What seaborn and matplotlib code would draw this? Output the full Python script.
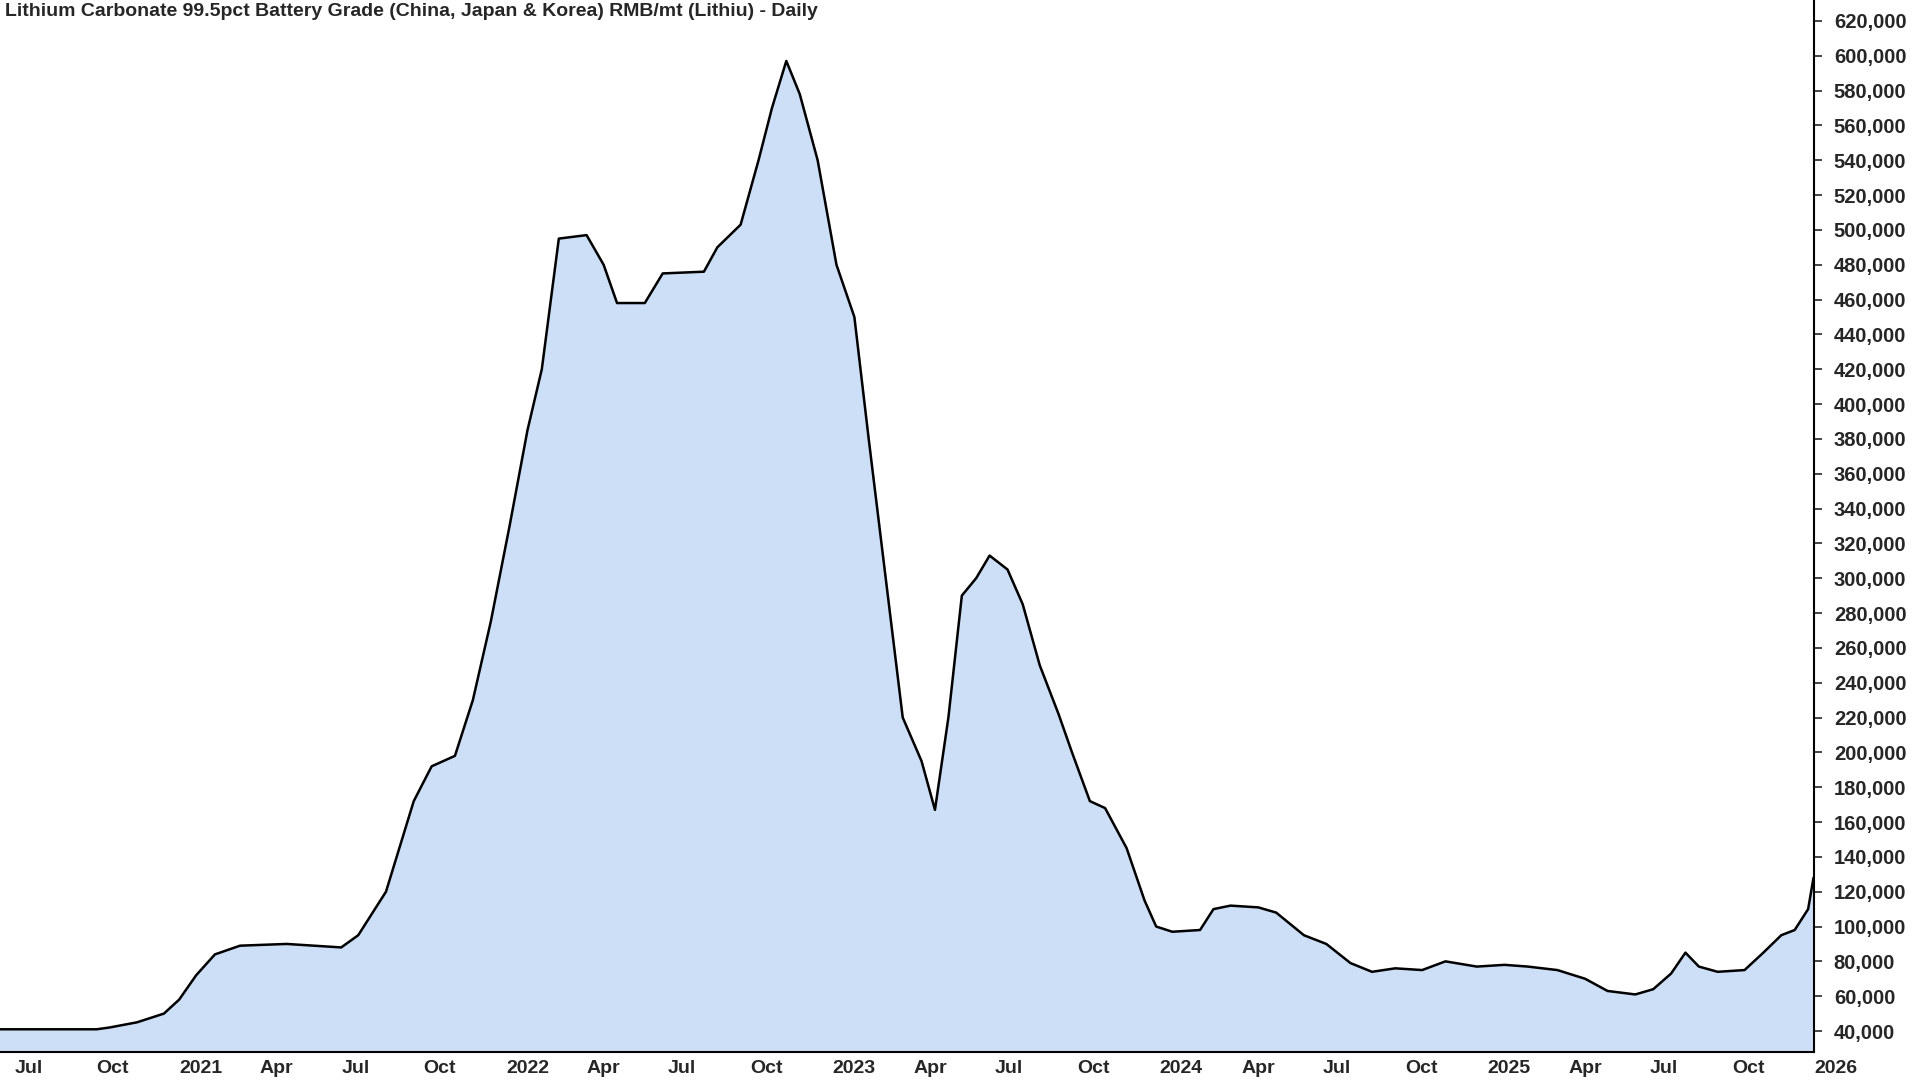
import pandas as pd
import seaborn as sns
import matplotlib.pyplot as plt
import matplotlib.dates as mdates
from matplotlib.ticker import FuncFormatter, MultipleLocator

# Price points (RMB/mt)
dates = ["2020-06-15", "2020-10-01", "2020-10-15", "2020-11-15", "2020-12-15", "2021-01-01",
         "2021-01-20", "2021-02-10", "2021-03-10", "2021-05-01", "2021-07-01", "2021-07-20",
         "2021-08-20", "2021-09-20", "2021-10-10", "2021-11-05", "2021-11-25", "2021-12-15",
         "2022-01-05", "2022-01-25", "2022-02-10", "2022-03-01", "2022-04-01", "2022-04-20",
         "2022-05-05", "2022-06-05", "2022-06-25", "2022-08-10", "2022-08-25", "2022-09-20",
         "2022-10-10", "2022-10-25", "2022-11-10", "2022-11-25", "2022-12-15", "2023-01-05",
         "2023-01-25", "2023-02-10", "2023-03-01", "2023-03-20", "2023-04-10", "2023-04-25",
         "2023-05-10", "2023-05-25", "2023-06-10", "2023-06-25", "2023-07-15", "2023-08-01",
         "2023-08-20", "2023-09-10", "2023-09-25", "2023-10-15", "2023-11-01", "2023-11-25",
         "2023-12-15", "2023-12-28", "2024-01-15", "2024-02-15", "2024-03-01", "2024-03-20",
         "2024-04-20", "2024-05-10", "2024-06-10", "2024-07-05", "2024-08-01", "2024-08-25",
         "2024-09-20", "2024-10-20", "2024-11-15", "2024-12-20", "2025-01-20", "2025-02-15",
         "2025-03-20", "2025-04-20", "2025-05-15", "2025-06-15", "2025-07-05", "2025-07-25",
         "2025-08-10", "2025-08-25", "2025-09-15", "2025-10-15", "2025-11-05", "2025-11-25",
         "2025-12-10", "2025-12-25", "2025-12-31"]
prices = [41000, 41000, 42000, 45000, 50000, 58000,
          72000, 84000, 89000, 90000, 88000, 95000,
          120000, 172000, 192000, 198000, 230000, 275000,
          330000, 385000, 420000, 495000, 497000, 480000,
          458000, 458000, 475000, 476000, 490000, 503000,
          540000, 570000, 597000, 578000, 540000, 480000,
          450000, 380000, 300000, 220000, 195000, 167000,
          220000, 290000, 300000, 313000, 305000, 285000,
          250000, 222000, 200000, 172000, 168000, 145000,
          115000, 100000, 97000, 98000, 110000, 112000,
          111000, 108000, 95000, 90000, 79000, 74000,
          76000, 75000, 80000, 77000, 78000, 77000,
          75000, 70000, 63000, 61000, 64000, 73000,
          85000, 77000, 74000, 75000, 85000, 95000,
          98000, 110000, 128000]

df = pd.DataFrame({"date": pd.to_datetime(dates), "price": prices})

sns.set_style("white")
plt.rcParams["font.family"] = ["Liberation Sans", "DejaVu Sans"]

fig = plt.figure(figsize=(19.2, 10.8), dpi=100)
ax = fig.add_axes([0.0, 0.026, 0.945, 0.974])

ax.fill_between(df["date"], 28000, df["price"], color="#cddff7", zorder=1)
sns.lineplot(data=df, x="date", y="price", ax=ax, color="black", linewidth=1.8, zorder=2)

ax.set_xlim(pd.Timestamp("2020-06-15"), pd.Timestamp("2026-01-01"))
ax.set_ylim(28000, 632000)
ax.set_xlabel("")
ax.set_ylabel("")

# y axis on the right
ax.yaxis.tick_right()
ax.yaxis.set_major_locator(MultipleLocator(20000))
ax.yaxis.set_major_formatter(FuncFormatter(lambda v, p: f"{int(v):,}" if v >= 40000 else ""))
ax.tick_params(axis="y", direction="out", length=6, width=1.2, labelsize=14.5, pad=8)

# x axis: quarterly ticks, labels just to the right of each tick
ax.xaxis.set_major_locator(mdates.MonthLocator(bymonth=[1, 4, 7, 10]))
ax.xaxis.set_major_formatter(FuncFormatter(
    lambda v, p: (mdates.num2date(v).strftime("%Y") if mdates.num2date(v).month == 1
                  else mdates.num2date(v).strftime("%b"))))
ax.tick_params(axis="x", direction="out", length=6, width=1.2, labelsize=14, pad=0)
for lbl in ax.get_xticklabels():
    lbl.set_horizontalalignment("left")
for lbl in ax.get_xticklabels() + ax.get_yticklabels():
    lbl.set_fontweight("bold")

for side in ["left", "top"]:
    ax.spines[side].set_visible(False)
for side in ["right", "bottom"]:
    ax.spines[side].set_color("black")
    ax.spines[side].set_linewidth(1.5)

ax.text(0.003, 0.997, "Lithium Carbonate 99.5pct Battery Grade (China, Japan & Korea) RMB/mt (Lithiu) - Daily",
        transform=ax.transAxes, ha="left", va="top", fontsize=14, fontweight="bold")

fig.savefig("out.png", dpi=100)
